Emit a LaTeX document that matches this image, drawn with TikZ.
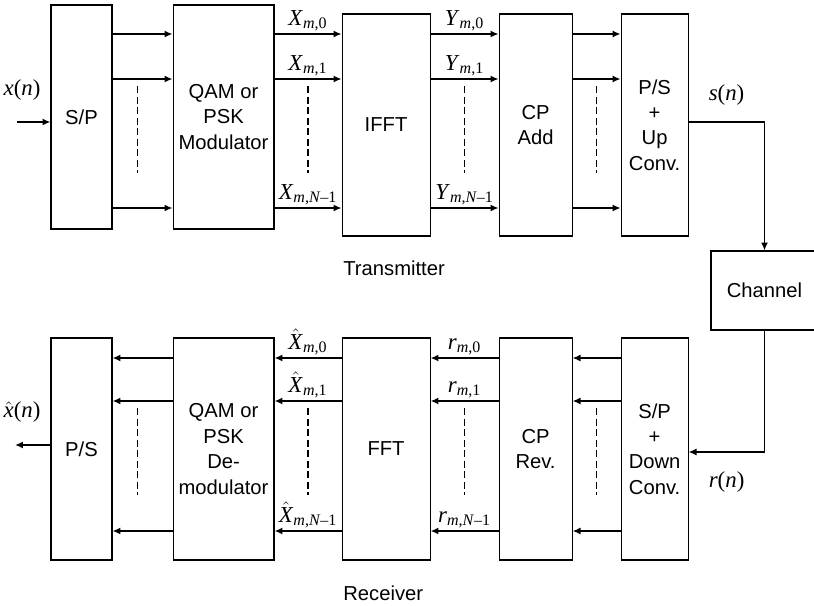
\documentclass[tikz,border=0pt]{standalone}
\usepackage{fontspec}
\setmainfont{Liberation Sans}
\newfontfamily\symfont{Liberation Serif}
\newcommand{\chsym}[2]{\textit{#1}\textsubscript{#2}}
\newcommand{\hatsym}[1]{$\hat{\mbox{\textit{#1}}}$}
\usetikzlibrary{arrows.meta, positioning, calc}

\begin{document}
\begin{tikzpicture}[
    x=0.02cm, y=-0.02cm,
    blk/.style={rectangle, draw, line width=0.6pt, inner sep=1pt, align=center,
                font=\fontsize{11.5}{14.5}\selectfont},
    arr/.style={-{Latex[length=4.5pt,width=4pt]}, line width=1.1pt},
    sig/.style={-{Latex[length=4.5pt,width=4pt]}, line width=0.8pt},
    dots/.style={dash pattern=on 4pt off 2pt, line width=1pt},
    lbl/.style={font=\symfont\fontsize{13}{15}\selectfont, inner sep=1pt},
    capt/.style={font=\fontsize{11.5}{14}\selectfont, anchor=west, inner sep=0pt}
  ]
    \useasboundingbox (0,0) rectangle (814,605);

    % transmitter chain
    \node[blk, minimum width=1.22cm, minimum height=4.48cm] (sp) at (81.5,117) {S/P};
    \node[blk, minimum width=2.02cm, minimum height=4.48cm, right=1.2cm of sp] (qam) {QAM or\\PSK\\Modulator};
    \node[blk, minimum width=1.76cm, minimum height=4.44cm, right=1.34cm of qam, yshift=-0.16cm] (ifft) {IFFT};
    \node[blk, minimum width=1.46cm, minimum height=4.44cm, right=1.36cm of ifft] (cpadd) {CP\\Add};
    \node[blk, minimum width=1.34cm, minimum height=4.44cm, right=0.96cm of cpadd] (psup) {P/S\\+\\Up\\Conv.};
    \node[blk, minimum width=2.14cm, minimum height=1.58cm] (chan) at (764.5,290.5) {Channel};

    % receiver chain
    \node[blk, minimum width=1.22cm, minimum height=4.44cm, below=2.16cm of sp] (ps) {P/S};
    \node[blk, minimum width=2.02cm, minimum height=4.44cm, below=2.16cm of qam] (qdem) {QAM or\\PSK\\De-\\modulator};
    \node[blk, minimum width=1.76cm, minimum height=4.44cm, below=2.02cm of ifft] (fft) {FFT};
    \node[blk, minimum width=1.46cm, minimum height=4.44cm, below=2.02cm of cpadd] (cprev) {CP\\Rev.};
    \node[blk, minimum width=1.34cm, minimum height=4.44cm, below=2.02cm of psup] (spdown) {S/P\\+\\Down\\Conv.};

    \node[capt] (tx) at (343,268) {Transmitter};
    \node[capt] (rx) at (343,593) {Receiver};

    % rows and gaps
    \coordinate (t0) at (0,34);  \coordinate (t1) at (0,79);  \coordinate (t2) at (0,208);
    \coordinate (b0) at (0,358); \coordinate (b1) at (0,401); \coordinate (b2) at (0,531);
    \coordinate (tdA) at (0,86); \coordinate (tdB) at (0,173);
    \coordinate (bdA) at (0,408); \coordinate (bdB) at (0,495);
    \coordinate (xin) at (17,122); \coordinate (xout) at (15,445);
    \coordinate (sline) at (0,122); \coordinate (rline) at (0,452);
    \coordinate (g1) at ($(sp.east)!.42!(qam.west)$);
    \coordinate (g2) at ($(qam.east)!.5!(ifft.west)$);
    \coordinate (g3) at ($(ifft.east)!.5!(cpadd.west)$);
    \coordinate (g4) at ($(cpadd.east)!.5!(psup.west)$);

    \draw[arr](xin)--(sp.west |- xin);
    \node[lbl] (xn) at (22,90) {\textit{x}(\textit{n})};
    \draw[arr](sp.east |- t0)--(qam.west |- t0); \draw[arr](sp.east |- t1)--(qam.west |- t1);
    \draw[arr](sp.east |- t2)--(qam.west |- t2);
    \draw[arr](qam.east |- t0) -- node[lbl,above]{\chsym{X}{\textit{m},0}} (ifft.west |- t0);
    \draw[arr](qam.east |- t1) -- node[lbl,above]{\chsym{X}{\textit{m},1}} (ifft.west |- t1);
    \draw[arr](qam.east |- t2) -- node[lbl,above]{\chsym{X}{\textit{m},\textit{N}–1}} (ifft.west |- t2);
    \draw[arr](ifft.east |- t0) -- node[lbl,above]{\chsym{Y}{\textit{m},0}} (cpadd.west |- t0);
    \draw[arr](ifft.east |- t1) -- node[lbl,above]{\chsym{Y}{\textit{m},1}} (cpadd.west |- t1);
    \draw[arr](ifft.east |- t2) -- node[lbl,above]{\chsym{Y}{\textit{m},\textit{N}–1}} (cpadd.west |- t2);
    \draw[arr](cpadd.east |- t0)--(psup.west |- t0); \draw[arr](cpadd.east |- t1)--(psup.west |- t1);
    \draw[arr](cpadd.east |- t2)--(psup.west |- t2);
    \draw[dots,line width=0.6pt](g1 |- tdA)--(g1 |- tdB); \draw[dots](g2 |- tdA)--(g2 |- tdB);
    \draw[dots](g3 |- tdA)--(g3 |- tdB); \draw[dots](g4 |- tdA)--(g4 |- tdB);

    \draw[sig](psup.east |- sline) -| node[lbl,pos=0.25,above=8pt]{\textit{s}(\textit{n})} (chan.north);
    \draw[sig](chan.south) |- node[lbl,pos=0.75,below=10pt]{\textit{r}(\textit{n})} (spdown.east |- rline);

    \draw[arr](spdown.west |- b0)--(cprev.east |- b0); \draw[arr](spdown.west |- b1)--(cprev.east |- b1);
    \draw[arr](spdown.west |- b2)--(cprev.east |- b2);
    \draw[arr](cprev.west |- b0) -- node[lbl,above]{\chsym{r}{\textit{m},0}} (fft.east |- b0);
    \draw[arr](cprev.west |- b1) -- node[lbl,above]{\chsym{r}{\textit{m},1}} (fft.east |- b1);
    \draw[arr](cprev.west |- b2) -- node[lbl,above]{\chsym{r}{\textit{m},\textit{N}–1}} (fft.east |- b2);
    \draw[arr](fft.west |- b0) -- node[lbl,above]{\hatsym{X}\textsubscript{\textit{m},0}} (qdem.east |- b0);
    \draw[arr](fft.west |- b1) -- node[lbl,above]{\hatsym{X}\textsubscript{\textit{m},1}} (qdem.east |- b1);
    \draw[arr](fft.west |- b2) -- node[lbl,above]{\hatsym{X}\textsubscript{\textit{m},\textit{N}–1}} (qdem.east |- b2);
    \draw[arr](qdem.west |- b0)--(ps.east |- b0); \draw[arr](qdem.west |- b1)--(ps.east |- b1);
    \draw[arr](qdem.west |- b2)--(ps.east |- b2);
    \draw[dots,line width=0.6pt](g1 |- bdA)--(g1 |- bdB); \draw[dots](g2 |- bdA)--(g2 |- bdB);
    \draw[dots](g3 |- bdA)--(g3 |- bdB); \draw[dots](g4 |- bdA)--(g4 |- bdB);

    \draw[arr](ps.west |- xout)--(xout);
    \node[lbl] (xhat) at (22,412) {\hatsym{x}(\textit{n})};
  \end{tikzpicture}
\end{document}
